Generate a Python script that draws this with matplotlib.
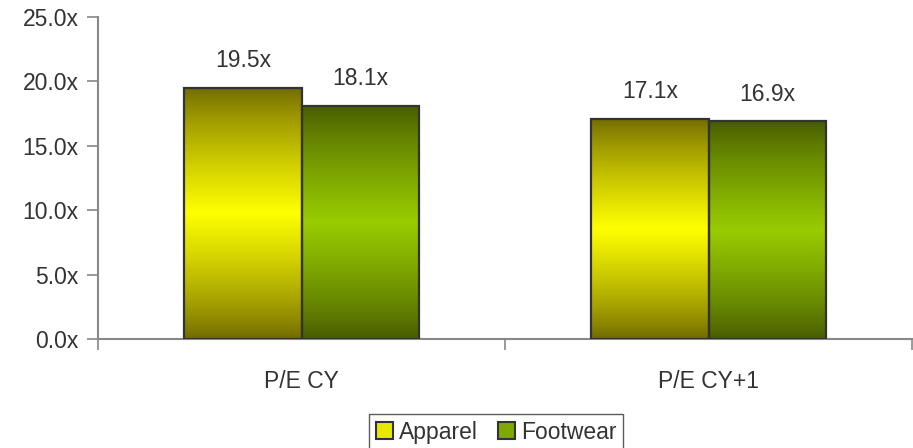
import numpy as np
import matplotlib
matplotlib.use("Agg")
import matplotlib.pyplot as plt
from matplotlib.patches import Rectangle
from matplotlib.colors import to_rgb

plt.rcParams['font.family'] = ['Liberation Sans', 'DejaVu Sans']

categories = ["P/E CY", "P/E CY+1"]
series_names = ["Apparel", "Footwear"]
apparel = [19.5, 17.1]
footwear = [18.1, 16.9]
yticks = [0, 5, 10, 15, 20, 25]

dark_cols = ["#6e6800", "#465a00"]
bright_cols = ["#ffff00", "#99cc00"]
legend_cols = ["#e8e800", "#7fa800"]

fig = plt.figure(figsize=(9.13, 4.48), dpi=100)
ax = fig.add_axes([98/913, 109/448, 814/913, 322/448])

txt_col = "#333333"
fs = 16.5
width = 0.2875
x = np.arange(len(categories))


def gradient(dark, bright, n=256):
    d = np.array(to_rgb(dark)); b = np.array(to_rgb(bright))
    t = np.linspace(0, 1, n)
    w = 1 - np.abs(2 * t - 1)
    w = w ** 0.8
    return (d[None, :] + (b - d)[None, :] * w[:, None])[:, None, :]


for i, vals in enumerate([apparel, footwear]):
    offs = (i - 0.5) * width
    bars = ax.bar(x + offs, vals, width, facecolor='none', edgecolor='#333333',
                  linewidth=1.6, zorder=3)
    img = gradient(dark_cols[i], bright_cols[i])
    for b, v in zip(bars, vals):
        x0 = b.get_x(); x1 = x0 + b.get_width()
        im = ax.imshow(img, extent=(x0, x1, 0, v), aspect='auto', origin='lower',
                       zorder=2, interpolation='bilinear')
        im.set_clip_path(b)
        ax.text(x0 + b.get_width() / 2, v + 1.2, f"{v:.1f}x", ha='center', va='bottom',
                fontsize=fs, color=txt_col)

ax.set_xlim(-0.5, 1.5)
ax.set_ylim(0, 25)
ax.set_yticks(yticks)
ax.set_yticklabels([f"{t:.1f}x" for t in yticks], fontsize=fs, color=txt_col)
ax.set_xticks(x)
ax.set_xticklabels(categories, fontsize=fs, color=txt_col)
ax.set_xticks([-0.5, 0.5, 1.5], minor=True)
ax.tick_params(axis='x', which='major', length=0, pad=22)
ax.tick_params(axis='x', which='minor', length=8, width=1.2, color='#888888', direction='out')
ax.tick_params(axis='y', length=8, width=1.2, color='#888888', direction='out', pad=6)
for s in ['top', 'right']:
    ax.spines[s].set_visible(False)
for s in ['left', 'bottom']:
    ax.spines[s].set_color('#888888')
    ax.spines[s].set_linewidth(1.5)

handles = [Rectangle((0, 0), 1, 1, facecolor=legend_cols[i], edgecolor='#333333', linewidth=1.5)
           for i in range(2)]
leg = fig.legend(handles, series_names, loc='upper center', bbox_to_anchor=(496/913, 1 - 414/448),
                 ncol=2, frameon=True, fancybox=False, fontsize=fs, handlelength=0.75,
                 handleheight=0.75, handletextpad=0.25, columnspacing=0.9, borderpad=0.3,
                 labelcolor=txt_col, borderaxespad=0)
leg.get_frame().set_edgecolor('#333333')
leg.get_frame().set_linewidth(1.0)

fig.savefig("out.png", dpi=100)
